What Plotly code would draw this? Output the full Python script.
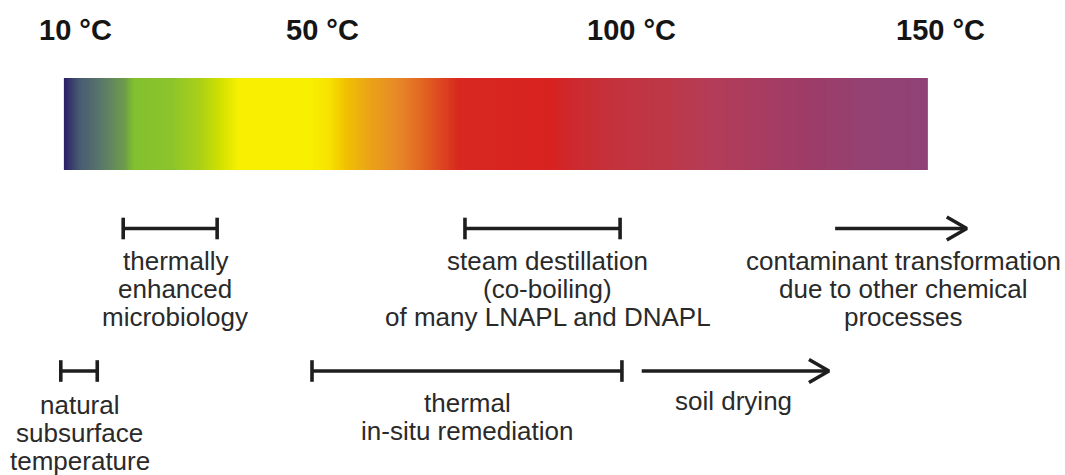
import numpy as np
import plotly.graph_objects as go

# ---------------- data ----------------
header_temps = [10, 50, 100, 150]
header_labels = ["10 °C", "50 °C", "100 °C", "150 °C"]

# colour stops of the temperature band (°C, colour)
gradient_temps = [8.2, 10.7, 14.5, 17.9, 19.5, 25.7, 30.2, 33.5, 36.4, 48.0,
                  51.4, 53.5, 58.1, 62.0, 67.4, 72.0, 87.0, 91.0, 97.0, 106.0,
                  113.0, 121.0, 129.7, 138.0, 148.0]
gradient_colors = ["#2b1f6b", "#475a72", "#5c7a68", "#6c9a4c", "#82c030",
                   "#8cc42a", "#aad018", "#d0e000", "#f8f000", "#f8f000",
                   "#f8e000", "#f0c400", "#eaa018", "#e88a28", "#e05a20",
                   "#d82820", "#d82220", "#cc2a30", "#c4323c", "#bc3848",
                   "#b43c58", "#a83c60", "#9c3c68", "#944274", "#904276"]

# upper row of processes
top_labels = [["thermally", "enhanced", "microbiology"],
              ["steam destillation", "(co-boiling)", "of many LNAPL and DNAPL"],
              ["contaminant transformation", "due to other chemical", "processes"]]
top_start = [17.8, 73.1, 133.0]
top_end = [33.0, 98.2, 154.3]
top_kind = ["range", "range", "arrow"]
top_label_temp = [26.2, 86.5, 144.0]

# lower row of processes
bottom_labels = [["natural", "subsurface", "temperature"],
                 ["thermal", "in-situ remediation"],
                 ["soil drying"]]
bottom_start = [7.7, 48.35, 101.7]
bottom_end = [13.6, 98.5, 132.0]
bottom_kind = ["range", "range", "arrow"]
bottom_label_temp = [10.8, 73.5, 116.5]

# ---------------- layout constants ----------------
W, H = 1065, 475
PX_PER_DEG = 6.18
REF_T, REF_PX = 10, 75
x_range = [REF_T - REF_PX / PX_PER_DEG, REF_T + (W - REF_PX) / PX_PER_DEG]

BAND_TOP, BAND_BOTTOM = 78, 170
ROW_Y = [228.5, 371]
TEXT_Y0 = [260.5, 403]
TEXT_DY = [28.0, 28.2]
CAP_HALF = 10.8
HEAD_BACK = 20 / PX_PER_DEG
HEAD_HALF = 11.5
LINE_W = 3.6
INK = "#1e1e1e"
TEXT_COLOR = "#2a2a2a"
FONT = "Liberation Sans, Arial, Helvetica, sans-serif"

fig = go.Figure()

# temperature band (heatmap whose colour = temperature)
n = 420
edges = np.linspace(gradient_temps[0], gradient_temps[-1], n + 1)
centers = (edges[:-1] + edges[1:]) / 2
tmin, tmax = gradient_temps[0], gradient_temps[-1]
colorscale = [[(t - tmin) / (tmax - tmin), c] for t, c in zip(gradient_temps, gradient_colors)]
fig.add_trace(go.Heatmap(x=edges, y=[BAND_TOP, BAND_BOTTOM], z=[centers],
                         colorscale=colorscale, zmin=tmin, zmax=tmax,
                         showscale=False, hoverinfo="skip"))


def add_marker(start, end, kind, y):
    xs, ys = [], []
    if kind == "range":
        xs += [start, start, None, start, end, None, end, end, None]
        ys += [y - CAP_HALF, y + CAP_HALF, None, y, y, None, y - CAP_HALF, y + CAP_HALF, None]
    else:
        xs += [start, end - 0.3, None, end - HEAD_BACK, end, end - HEAD_BACK, None]
        ys += [y, y, None, y - HEAD_HALF, y, y + HEAD_HALF, None]
    fig.add_trace(go.Scatter(x=xs, y=ys, mode="lines",
                             line=dict(color=INK, width=LINE_W),
                             hoverinfo="skip", showlegend=False))


annotations = []
for t, lab in zip(header_temps, header_labels):
    annotations.append(dict(x=t, y=30, xref="x", yref="y", text=lab, showarrow=False,
                            xanchor="center", yanchor="middle",
                            font=dict(family=FONT, size=29, color="#151515", weight="bold")))

rows = [(top_labels, top_start, top_end, top_kind, top_label_temp),
        (bottom_labels, bottom_start, bottom_end, bottom_kind, bottom_label_temp)]
for r, (labels, starts, ends, kinds, label_t) in enumerate(rows):
    for lines, s, e, k, lt in zip(labels, starts, ends, kinds, label_t):
        add_marker(s, e, k, ROW_Y[r])
        y0 = TEXT_Y0[r]
        if r == 1 and lines[0] == "natural":
            y0 += 2
        if r == 1 and lines[0] == "soil drying":
            y0 -= 2
        for i, line in enumerate(lines):
            annotations.append(dict(x=lt, y=y0 + i * TEXT_DY[r], xref="x", yref="y",
                                    text=line, showarrow=False,
                                    xanchor="center", yanchor="middle",
                                    font=dict(family=FONT, size=26, color=TEXT_COLOR)))

fig.update_layout(
    width=W, height=H,
    margin=dict(l=0, r=0, t=0, b=0),
    paper_bgcolor="white", plot_bgcolor="white",
    showlegend=False,
    xaxis=dict(range=x_range, visible=False, fixedrange=True),
    yaxis=dict(range=[H, 0], visible=False, fixedrange=True),
    annotations=annotations,
)

fig.write_html("out.html",
               config={"displayModeBar": False, "staticPlot": True},
               post_script="document.body.style.margin='0';document.body.style.overflow='hidden';")
